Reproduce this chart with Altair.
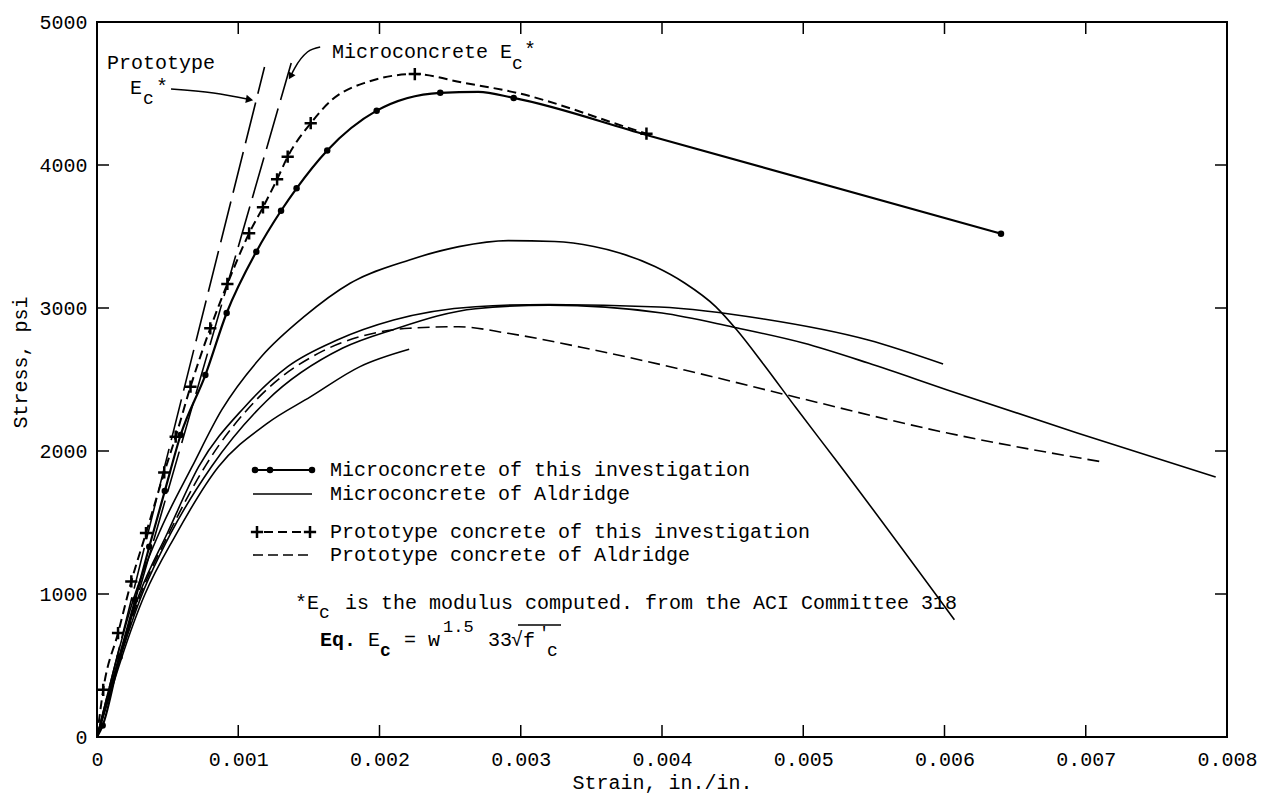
import altair as alt
import pandas as pd

FONT = "Liberation Mono"

# ---------------- axis ticks ----------------
x_ticks = [0, 0.001, 0.002, 0.003, 0.004, 0.005, 0.006, 0.007, 0.008]
y_ticks = [0, 1000, 2000, 3000, 4000, 5000]
x_inner_ticks = [0.001, 0.002, 0.003, 0.004, 0.005, 0.006, 0.007]
y_inner_ticks = [1000, 2000, 3000, 4000]

# ---------------- Microconcrete of this investigation (solid + dots) ----------------
micro_dot_x = [0.00004, 0.00016, 0.00027, 0.00037, 0.00048, 0.000592, 0.000767, 0.000918,
               0.001128, 0.001303, 0.001413, 0.00163, 0.00198, 0.00243, 0.00295, 0.0064]
micro_dot_y = [80, 560, 960, 1330, 1720, 2112, 2531, 2965,
               3394, 3680, 3837, 4102, 4380, 4505, 4469, 3520]
micro_line_x = [0, 0.00004, 0.00016, 0.00027, 0.00037, 0.00048, 0.000592, 0.000767, 0.000918,
                0.001128, 0.001303, 0.001413, 0.00163, 0.00198, 0.00243, 0.0027, 0.00295, 0.00389, 0.0064]
micro_line_y = [0, 80, 560, 960, 1330, 1720, 2112, 2531, 2965,
                3394, 3680, 3837, 4102, 4380, 4505, 4512, 4469, 4210, 3520]

# ---------------- Prototype concrete of this investigation (dashed + crosses) ----------------
proto_pt_x = [0.000044, 0.000149, 0.000243, 0.000347, 0.000476, 0.000557, 0.000662, 0.000802,
              0.000923, 0.001077, 0.001175, 0.001275, 0.00135, 0.001513, 0.00225, 0.00389]
proto_pt_y = [330, 727, 1088, 1426, 1850, 2100, 2450, 2858,
              3168, 3522, 3704, 3900, 4058, 4292, 4636, 4219]
proto_line_x = [0, 0.000044, 0.000149, 0.000243, 0.000347, 0.000476, 0.000557, 0.000662, 0.000802,
                0.000923, 0.001077, 0.001175, 0.001275, 0.00135, 0.001513, 0.001665, 0.0019,
                0.00225, 0.00259, 0.00297, 0.00374, 0.00389]
proto_line_y = [0, 330, 727, 1088, 1426, 1850, 2100, 2450, 2858,
                3168, 3522, 3704, 3900, 4058, 4292, 4457, 4576,
                4636, 4576, 4505, 4267, 4219]

# ---------------- Microconcrete of Aldridge (thin solid) ----------------
ald1_x = [0, 0.00027, 0.00045, 0.000673, 0.000883, 0.001163, 0.001466, 0.001792, 0.002212, 0.002562,
          0.002911, 0.00324, 0.003517, 0.0037, 0.00395, 0.00416, 0.00438, 0.00453, 0.00472, 0.00495,
          0.00524, 0.00607]
ald1_y = [0, 1000, 1450, 1890, 2287, 2659, 2939, 3173, 3336, 3429,
          3471, 3465, 3430, 3385, 3290, 3175, 3010, 2846, 2605, 2300,
          1925, 820]
ald2_x = [0, 0.0003, 0.0005, 0.00072, 0.001047, 0.00135, 0.0017, 0.0021, 0.00268, 0.0032,
          0.00398, 0.00472, 0.00546, 0.00599]
ald2_y = [0, 1000, 1430, 1890, 2310, 2590, 2776, 2916, 3009, 3025,
          3007, 2923, 2776, 2608]
ald3_x = [0, 0.00032, 0.00052, 0.00081, 0.0012, 0.00174, 0.0021, 0.00268, 0.0032, 0.004,
          0.0045, 0.005, 0.00546, 0.00602, 0.00694, 0.00792]
ald3_y = [0, 1000, 1420, 1890, 2350, 2720, 2850, 2995, 3020, 2965,
          2867, 2755, 2615, 2427, 2126, 1818]
ald4_x = [0, 0.00034, 0.00055, 0.00086, 0.0012, 0.001513, 0.001862, 0.00221]
ald4_y = [0, 1000, 1400, 1890, 2190, 2380, 2590, 2711]

# ---------------- Prototype concrete of Aldridge (dashed) ----------------
pald_x = [0, 0.00031, 0.00051, 0.00077, 0.00115, 0.0016, 0.0019, 0.00221, 0.00256, 0.00291,
          0.00352, 0.00416, 0.00497, 0.00602, 0.00712]
pald_y = [0, 1000, 1425, 1900, 2380, 2700, 2810, 2858, 2869, 2823,
          2706, 2566, 2371, 2126, 1923]

# ---------------- E_c* straight lines ----------------
ec_proto_x = [0, 0.001186]
ec_proto_y = [0, 4685]
ec_micro_x = [0, 0.001375]
ec_micro_y = [0, 4713]

# ---------------- annotation arrows (data units) ----------------
arrow1_x = [0.000524, 0.000825, 0.00108]
arrow1_y = [4531, 4503, 4458]
arrow2_x = [0.00158, 0.00149, 0.0014, 0.00137]
arrow2_y = [4825, 4790, 4678, 4620]

W, H = 1130, 715
xs = alt.Scale(domain=[0, 0.008], nice=False, zero=False)
ys = alt.Scale(domain=[0, 5000], nice=False, zero=False)

x_axis = alt.Axis(values=x_ticks, format=".3~f", title="Strain, in./in.",
                  labelFont=FONT, labelFontSize=20, labelColor="black",
                  titleFont=FONT, titleFontSize=20, titleFontWeight="normal", titleColor="black",
                  ticks=False, domain=False, grid=False, labelPadding=12, titlePadding=3,
                  labelFlush=False)
y_axis = alt.Axis(values=y_ticks, format="d", title="Stress, psi",
                  labelFont=FONT, labelFontSize=20, labelColor="black",
                  titleFont=FONT, titleFontSize=20, titleFontWeight="normal", titleColor="black",
                  ticks=False, domain=False, grid=False, labelPadding=10,
                  titleX=-77, titleY=340, titleAngle=270, titleAlign="center",
                  titleBaseline="middle", labelFlush=False)


def X():
    return alt.X("strain:Q", scale=xs, axis=x_axis)


def Y():
    return alt.Y("stress:Q", scale=ys, axis=y_axis)


def frame(xv, yv):
    return pd.DataFrame({"strain": xv, "stress": yv, "i": list(range(len(xv)))})


def line(xv, yv, width, dash=None, interp="monotone"):
    kw = dict(color="black", strokeWidth=width, interpolate=interp)
    if dash:
        kw["strokeDash"] = dash
    return alt.Chart(frame(xv, yv)).mark_line(**kw).encode(x=X(), y=Y(), order="i:Q")


def points(xv, yv, **kw):
    return alt.Chart(frame(xv, yv)).mark_point(color="black", opacity=1, **kw).encode(x=X(), y=Y())


def ptext(s, x, y, size=20, weight="normal", align="left"):
    return alt.Chart(pd.DataFrame({"t": [s]})).mark_text(
        font=FONT, fontSize=size, fontWeight=weight, align=align, baseline="middle", color="black"
    ).encode(x=alt.value(x), y=alt.value(y), text="t:N")


def prule(x1, x2, y1, y2, width=1.5, dash=None):
    kw = dict(color="black", strokeWidth=width)
    if dash:
        kw["strokeDash"] = dash
    return alt.Chart(pd.DataFrame({"a": [0]})).mark_rule(**kw).encode(
        x=alt.value(x1), x2=alt.value(x2), y=alt.value(y1), y2=alt.value(y2))


def ppoint(x, y, **kw):
    return alt.Chart(pd.DataFrame({"a": [0]})).mark_point(color="black", opacity=1, **kw).encode(
        x=alt.value(x), y=alt.value(y))


PLUS = "M-1,0L1,0M0,-1L0,1"

layers = []

# inward ticks on all four sides
tx = pd.DataFrame({"strain": x_inner_ticks})
ty = pd.DataFrame({"stress": y_inner_ticks})
layers.append(alt.Chart(tx).mark_rule(color="black", strokeWidth=1.5).encode(
    x=X(), y=alt.value(H), y2=alt.value(H - 12)))
layers.append(alt.Chart(tx).mark_rule(color="black", strokeWidth=1.5).encode(
    x=X(), y=alt.value(0), y2=alt.value(12)))
layers.append(alt.Chart(ty).mark_rule(color="black", strokeWidth=1.5).encode(
    y=Y(), x=alt.value(0), x2=alt.value(12)))
layers.append(alt.Chart(ty).mark_rule(color="black", strokeWidth=1.5).encode(
    y=Y(), x=alt.value(W), x2=alt.value(W - 12)))

# curves
layers.append(line(ec_proto_x, ec_proto_y, 1.6, dash=[42, 9], interp="linear"))
layers.append(line(ec_micro_x, ec_micro_y, 1.6, dash=[42, 9], interp="linear"))
layers.append(line(ald1_x, ald1_y, 1.6))
layers.append(line(ald2_x, ald2_y, 1.6))
layers.append(line(ald3_x, ald3_y, 1.6))
layers.append(line(ald4_x, ald4_y, 1.6))
layers.append(line(pald_x, pald_y, 1.6, dash=[12, 6]))
layers.append(line(micro_line_x, micro_line_y, 2.2))
layers.append(points(micro_dot_x, micro_dot_y, shape="circle", filled=True, size=42))
layers.append(line(proto_line_x, proto_line_y, 2.0, dash=[9, 5]))
layers.append(points(proto_pt_x, proto_pt_y, shape=PLUS, filled=False, size=150, strokeWidth=2.5))

# arrows
layers.append(line(arrow1_x, arrow1_y, 1.5))
layers.append(points(arrow1_x[-1:], arrow1_y[-1:], shape="triangle-right", filled=True, size=70, angle=10))
layers.append(line(arrow2_x, arrow2_y, 1.5))
layers.append(points(arrow2_x[-1:], arrow2_y[-1:], shape="triangle-right", filled=True, size=60, angle=119))

# top-left labels
layers.append(ptext("Prototype", 10, 41))
layers.append(ptext("E", 33, 66))
layers.append(ptext("c", 46, 77, size=18))
layers.append(ptext("*", 59, 65))
layers.append(ptext("Microconcrete E", 235, 30))
layers.append(ptext("c", 415, 42, size=18))
layers.append(ptext("*", 427, 28))

# legend
layers.append(prule(158, 215, 448, 448, width=2.2))
for px in (158, 173, 215):
    layers.append(ppoint(px, 448, shape="circle", filled=True, size=42))
layers.append(ptext("Microconcrete of this investigation", 233, 448))
layers.append(prule(156, 215, 472, 472, width=1.6))
layers.append(ptext("Microconcrete of Aldridge", 233, 472))
layers.append(prule(167, 207, 510, 510, width=2.0, dash=[9, 5]))
for px in (160, 213):
    layers.append(ppoint(px, 510, shape=PLUS, filled=False, size=150, strokeWidth=2.5))
layers.append(ptext("Prototype concrete of this investigation", 233, 510))
layers.append(prule(156, 215, 533, 533, width=1.6, dash=[10, 5]))
layers.append(ptext("Prototype concrete of Aldridge", 233, 533))

# footnote
layers.append(ptext("*E", 198, 581))
layers.append(ptext("c", 222, 591, size=18))
layers.append(ptext("is the modulus computed. from the ACI Committee 318", 248, 581))
layers.append(ptext("Eq.", 223, 618, weight="bold"))
layers.append(ptext("E", 271, 618))
layers.append(ptext("c", 283, 629, size=18, weight="bold"))
layers.append(ptext("= w", 307, 618))
layers.append(ptext("1.5", 346, 605, size=17))
layers.append(ptext("33", 391, 618))
layers.append(ptext("\u221a", 414, 618))
layers.append(prule(421, 464, 603, 603, width=1.3))
layers.append(ptext("f", 426, 619))
layers.append(ptext("'", 442, 611, size=17))
layers.append(ptext("c", 450, 629, size=18))

chart = alt.layer(*layers).properties(
    width=W, height=H,
    padding={"left": 89, "top": 14, "right": 30, "bottom": 60},
    autosize=alt.AutoSizeParams(type="none"),
).configure_view(stroke="black", strokeWidth=2)

chart.save("out.html", embed_options={"renderer": "svg", "actions": False})
